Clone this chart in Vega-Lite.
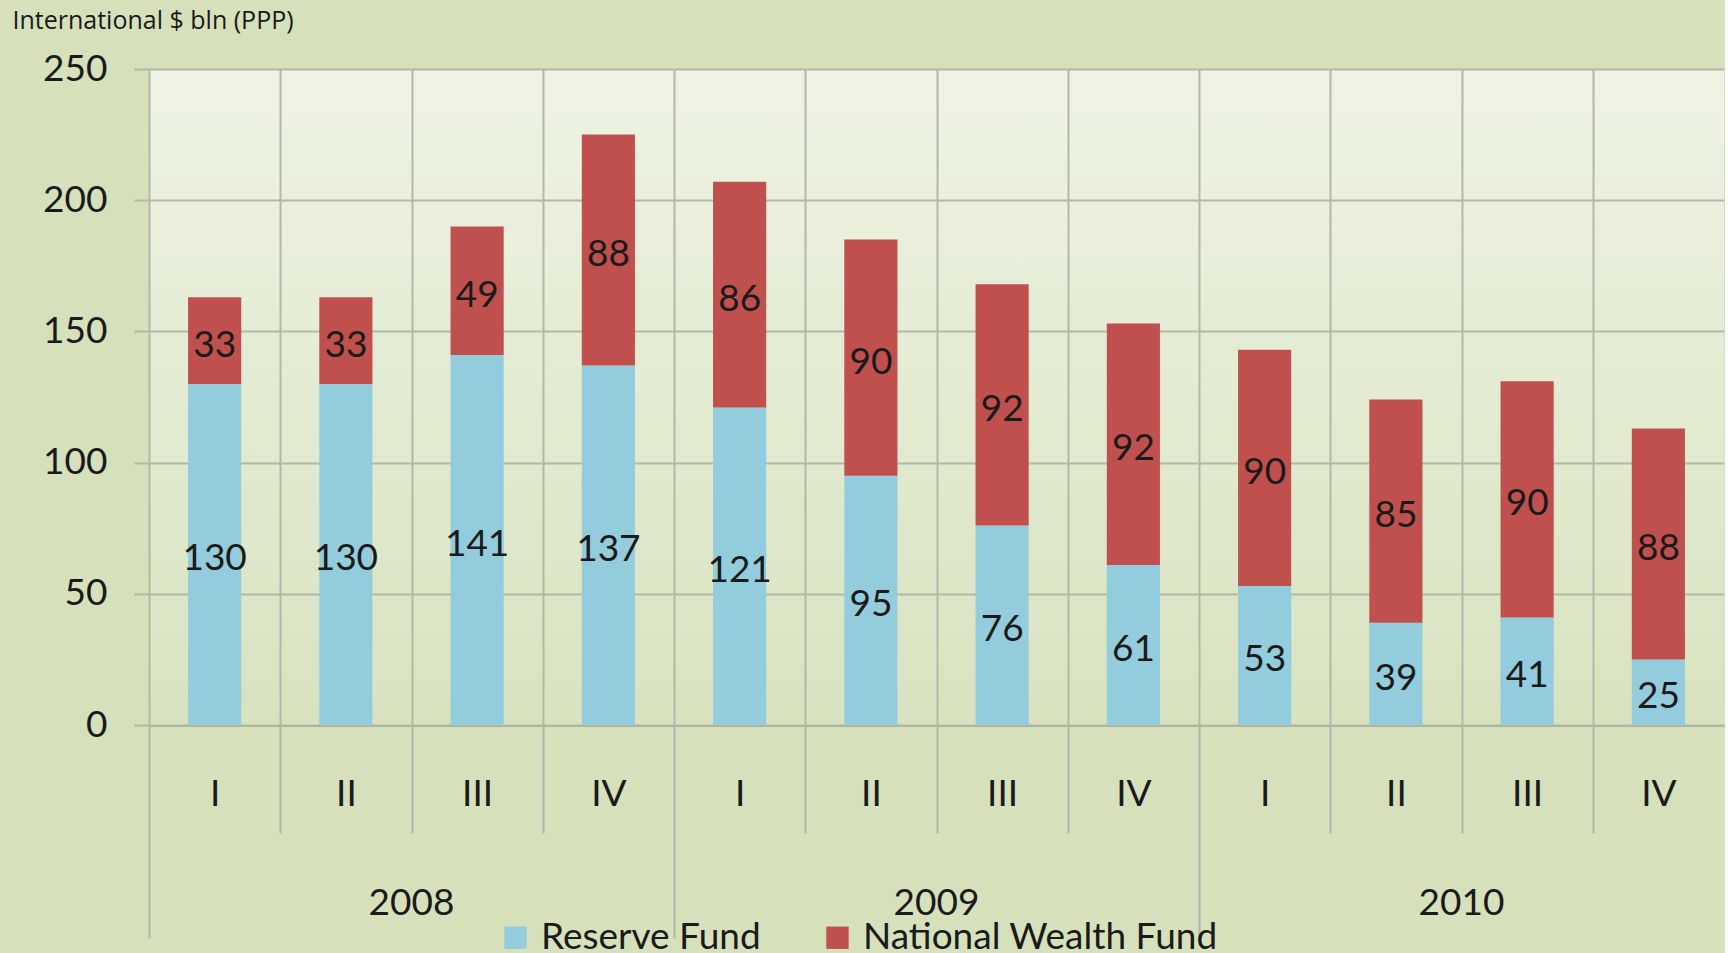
{
  "$schema": "https://vega.github.io/schema/vega-lite/v6.json",
  "padding": {"left": 12, "top": 8, "right": 0, "bottom": 0},
  "background": "#d6e0bb",
  "data": {
    "values": [
      {"year": "2008", "quarter": "I", "fund": "Reserve Fund", "value": 130},
      {"year": "2008", "quarter": "I", "fund": "National Wealth Fund", "value": 33},
      {"year": "2008", "quarter": "II", "fund": "Reserve Fund", "value": 130},
      {"year": "2008", "quarter": "II", "fund": "National Wealth Fund", "value": 33},
      {"year": "2008", "quarter": "III", "fund": "Reserve Fund", "value": 141},
      {"year": "2008", "quarter": "III", "fund": "National Wealth Fund", "value": 49},
      {"year": "2008", "quarter": "IV", "fund": "Reserve Fund", "value": 137},
      {"year": "2008", "quarter": "IV", "fund": "National Wealth Fund", "value": 88},
      {"year": "2009", "quarter": "I", "fund": "Reserve Fund", "value": 121},
      {"year": "2009", "quarter": "I", "fund": "National Wealth Fund", "value": 86},
      {"year": "2009", "quarter": "II", "fund": "Reserve Fund", "value": 95},
      {"year": "2009", "quarter": "II", "fund": "National Wealth Fund", "value": 90},
      {"year": "2009", "quarter": "III", "fund": "Reserve Fund", "value": 76},
      {"year": "2009", "quarter": "III", "fund": "National Wealth Fund", "value": 92},
      {"year": "2009", "quarter": "IV", "fund": "Reserve Fund", "value": 61},
      {"year": "2009", "quarter": "IV", "fund": "National Wealth Fund", "value": 92},
      {"year": "2010", "quarter": "I", "fund": "Reserve Fund", "value": 53},
      {"year": "2010", "quarter": "I", "fund": "National Wealth Fund", "value": 90},
      {"year": "2010", "quarter": "II", "fund": "Reserve Fund", "value": 39},
      {"year": "2010", "quarter": "II", "fund": "National Wealth Fund", "value": 85},
      {"year": "2010", "quarter": "III", "fund": "Reserve Fund", "value": 41},
      {"year": "2010", "quarter": "III", "fund": "National Wealth Fund", "value": 90},
      {"year": "2010", "quarter": "IV", "fund": "Reserve Fund", "value": 25},
      {"year": "2010", "quarter": "IV", "fund": "National Wealth Fund", "value": 88}
    ]
  },
  "spacing": 0,
  "facet": {
    "column": {
      "field": "year",
      "type": "nominal",
      "header": {
        "title": null,
        "labelOrient": "bottom",
        "labelFont": "Lato",
        "labelFontSize": 37,
        "labelColor": "#1a1a1a",
        "labelPadding": -35,
        "labelBaseline": "middle"
      }
    }
  },
  "spec": {
    "width": 525,
    "height": 656,
    "encoding": {
      "x": {
        "field": "quarter",
        "type": "nominal",
        "sort": ["I", "II", "III", "IV"],
        "scale": {"paddingInner": 0, "paddingOuter": 0},
        "axis": {
          "title": null,
          "labelAngle": 0,
          "tickBand": "extent",
          "grid": true,
          "gridColor": {"condition": {"test": "datum.value === 'IV'", "value": "transparent"}, "value": "#b3b7a8"},
          "gridWidth": 2,
          "tickColor": {"condition": {"test": "datum.value === 'IV'", "value": "transparent"}, "value": "#b3b7a8"},
          "tickWidth": 2,
          "tickSize": {"condition": {"test": "datum.value == null", "value": 213}, "value": 108},
          "domain": true,
          "domainColor": "#a6aa98",
          "domainWidth": 3,
          "labelFont": "Lato",
          "labelFontSize": 37,
          "labelColor": "#1a1a1a",
          "labelBaseline": "middle",
          "labelPadding": -39
        }
      },
      "y": {
        "field": "value",
        "type": "quantitative",
        "stack": "zero",
        "scale": {"domain": [0, 250]},
        "axis": {
          "values": [0, 50, 100, 150, 200, 250],
          "grid": true,
          "gridColor": "#b3b7a8",
          "gridWidth": 2,
          "domain": false,
          "tickSize": 15,
          "tickColor": "#b3b7a8",
          "tickWidth": 2,
          "labelFont": "Lato",
          "labelFontSize": 37,
          "labelColor": "#1a1a1a",
          "labelPadding": 27,
          "title": "International $ bln (PPP)",
          "titleFont": "Open Sans",
          "titleFontSize": 25,
          "titleFontWeight": "normal",
          "titleColor": "#1a1a1a",
          "titleAngle": 0,
          "titleAlign": "left",
          "titleBaseline": "top",
          "titleX": -137,
          "titleY": -61
        }
      },
      "order": {"field": "fund", "sort": "descending"}
    },
    "layer": [
      {
        "mark": {"type": "bar", "width": {"band": 0.405}},
        "encoding": {
          "color": {
            "field": "fund",
            "type": "nominal",
            "scale": {"domain": ["Reserve Fund", "National Wealth Fund"], "range": ["#93cddd", "#c0504d"]},
            "legend": {
              "title": null,
              "orient": "none",
              "direction": "horizontal",
              "legendX": 348,
              "legendY": 850,
              "symbolType": "square",
              "symbolSize": 500,
              "symbolStrokeWidth": 0,
              "labelFont": "Lato",
              "labelFontSize": 37,
              "labelColor": "#1a1a1a",
              "labelOffset": 7,
              "labelLimit": 0,
              "columnPadding": 58
            }
          }
        }
      },
      {
        "mark": {"type": "text", "font": "Lato", "fontSize": 37, "color": "#1a1a1a", "baseline": "middle", "dy": 5},
        "encoding": {
          "y": {"field": "value", "type": "quantitative", "stack": "zero", "bandPosition": 0.5},
          "text": {"field": "value", "type": "quantitative"}
        }
      }
    ]
  },
  "config": {
    "view": {
      "stroke": null,
      "fill": {
        "gradient": "linear",
        "x1": 0, "y1": 0, "x2": 0, "y2": 1,
        "stops": [
          {"offset": 0, "color": "#eef3e4"},
          {"offset": 1, "color": "#d8e2bf"}
        ]
      }
    }
  }
}
